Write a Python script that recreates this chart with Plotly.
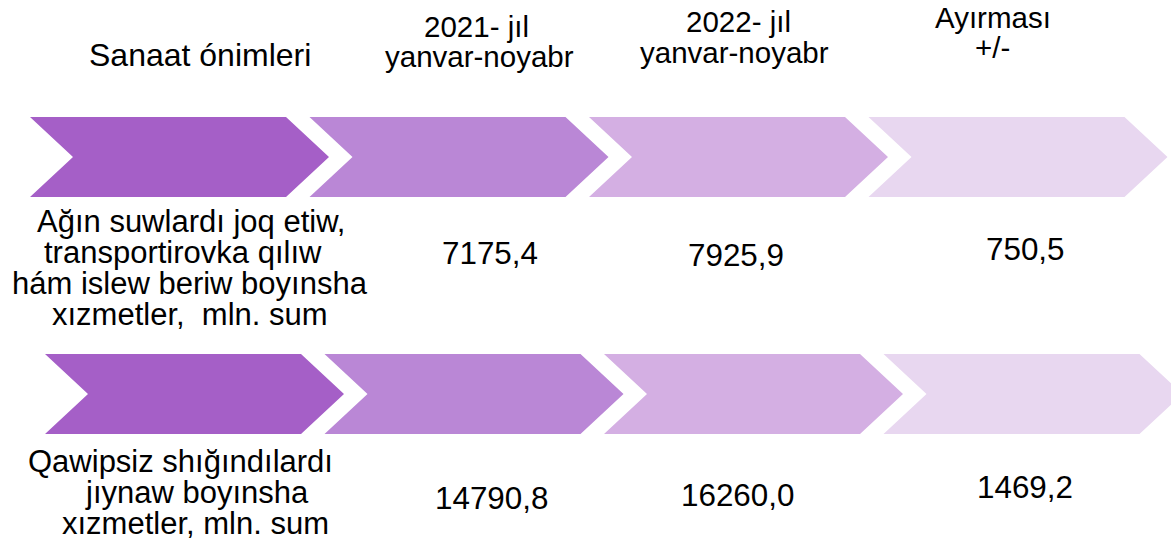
import plotly.graph_objects as go

# --- data ---
headers = [["Sanaat ónimleri"],
           ["2021- jıl", "yanvar-noyabr"],
           ["2022- jıl", "yanvar-noyabr"],
           ["Ayırması", "+/-"]]

products = [["Ağın suwlardı joq etiw,", "transportirovka qılıw",
             "hám islew beriw boyınsha", "xızmetler,  mln. sum"],
            ["Qawipsiz shığındılardı", "jıynaw boyınsha",
             "xızmetler, mln. sum"]]

jan_nov_2021 = [7175.4, 14790.8]
jan_nov_2022 = [7925.9, 16260.0]
difference = [750.5, 1469.2]

# --- layout (pixel coordinates, y down) ---
W, H = 1171, 538
chev_colors = ["#A55FC7", "#BA87D6", "#D4AFE3", "#E8D7F0"]
row_left = [30, 45]
row_top = [117, 354]
chev_h = 80
chev_w = 299
chev_depth = 43
pitch = 279.5

FONT = "Liberation Sans, Arial, sans-serif"


def chevron(x0, y0):
    ym = y0 + chev_h / 2
    xs = [x0, x0 + chev_w - chev_depth, x0 + chev_w, x0 + chev_w - chev_depth,
          x0, x0 + chev_depth, x0]
    ys = [y0, y0, ym, y0 + chev_h, y0 + chev_h, ym, y0]
    return xs, ys


fig = go.Figure()

for r in range(len(products)):
    for c, col in enumerate(chev_colors):
        xs, ys = chevron(row_left[r] + c * pitch, row_top[r])
        fig.add_trace(go.Scatter(x=xs, y=ys, mode="lines", fill="toself",
                                 fillcolor=col, line=dict(width=0),
                                 hoverinfo="skip", showlegend=False))


def label(x, y, text, size):
    fig.add_annotation(x=x, y=y, text=text, showarrow=False,
                       xanchor="center", yanchor="middle",
                       font=dict(family=FONT, size=size, color="black"))


# headers: centre positions of each line
header_pos = [[(200, 54.6)],
              [(476, 26.5), (479, 56.5)],
              [(738, 21.5), (734, 52)],
              [(993, 17), (992, 47)]]
header_size = [32, 29.5, 29.5, 29.5]
for lines, pos, sz in zip(headers, header_pos, header_size):
    for t, (x, y) in zip(lines, pos):
        label(x, y, t, sz)

# product names
product_pos = [[(191, 221.5), (183, 252.5), (190, 283.5), (190, 314.5)],
               [(180.5, 461), (196.7, 492), (195.5, 523)]]
for lines, pos in zip(products, product_pos):
    for t, (x, y) in zip(lines, pos):
        label(x, y, t, 31)


def fmt(v):
    return f"{v:.1f}".replace(".", ",")


value_pos = [[(489.5, 253.4), (736, 255.8), (1025, 249)],
             [(491.8, 498.4), (737, 495), (1025, 487.4)]]
for r in range(len(products)):
    vals = [jan_nov_2021[r], jan_nov_2022[r], difference[r]]
    for v, (x, y) in zip(vals, value_pos[r]):
        label(x, y, fmt(v), 31.4)

fig.update_layout(
    width=W, height=H,
    margin=dict(l=0, r=0, t=0, b=0),
    paper_bgcolor="white", plot_bgcolor="white",
    xaxis=dict(range=[0, W], visible=False, fixedrange=True),
    yaxis=dict(range=[H, 0], visible=False, fixedrange=True),
    showlegend=False,
)

# the page's default body margin would push the figure 8px in
fig.write_html("out.html", config={"displayModeBar": False},
               post_script="document.body.style.margin='0px';")
